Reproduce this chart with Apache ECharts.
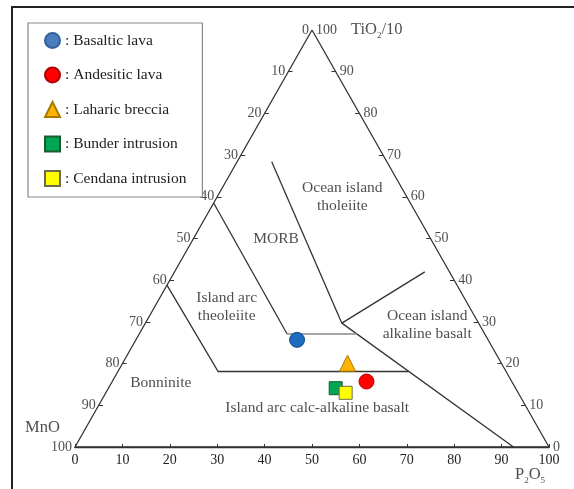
<!DOCTYPE html>
<html>
<head>
<meta charset="utf-8">
<script src="https://cdn.jsdelivr.net/npm/echarts@6/dist/echarts.min.js"></script>
<style>html,body{margin:0;padding:0;background:#fff;}#c{width:574px;height:489px;}</style>
</head>
<body>
<div id="c"></div>
<script>
// Ternary compositions: [TiO2/10, MnO, P2O5]
const basalticLava = [[25.7, 40.3, 34.0]];
const andesiticLava = [[15.7, 30.65, 53.65]];
const lahariBreccia = [[20.1, 32.45, 47.45]];
const bunderIntrusion = [[14.1, 37.95, 47.95]];
const cendanaIntrusion = [[13.0, 36.4, 50.6]];

// Field boundaries (ternary polylines)
const lineA = [[58.5, 41.5, 0], [27.1, 41.7, 31.2]];
const lineAH = [[27.1, 41.7, 31.2], [27.1, 26.95, 45.95]];
const lineB = [[68.4, 24.3, 7.3], [29.7, 28.85, 41.45]];
const lineC = [[29.7, 28.85, 41.45], [42.0, 5.2, 52.8]];
const lineD = [[29.7, 28.85, 41.45], [0, 7.5, 92.5]];
const lineE = [[38.8, 61.2, 0], [18.1, 60.75, 21.15], [18.1, 20.55, 61.35]];
const frame = [[100, 0, 0], [0, 100, 0], [0, 0, 100], [100, 0, 0]];

const sideTicks = [10, 20, 30, 40, 50, 60, 70, 80, 90];
const sideLabels = [0, 10, 20, 30, 40, 50, 60, 70, 80, 90, 100];

// Field labels: [text, TiO2/10, MnO, P2O5]
const fieldNames = ['Ocean island\ntholeiite', 'MORB', 'Island arc\ntheoleiite', 'Ocean island\nalkaline basalt', 'Bonninite', 'Island arc calc-alkaline basalt'];
const fieldPos = [[59.9, 13.65, 26.45], [49.9, 32.65, 17.45], [33.6, 51.2, 15.2], [29.3, 11.05, 59.65], [15.3, 74.25, 10.45], [9.4, 44.2, 46.4]];

const FONT = 'Liberation Serif';
function tern(p) { return [p[2] + p[0] / 2, p[0]]; }

const chart = echarts.init(document.getElementById('c'));

function scatterSeries(name, data, symbol, size, color, border) {
  return {
    name: name, type: 'scatter', symbol: symbol, symbolSize: size,
    data: data.map(tern),
    itemStyle: { color: color, borderColor: border, borderWidth: 1, opacity: 1 },
    z: 10
  };
}

const leftTickSegs = sideTicks.map(m => { const a = tern([100 - m, m, 0]); return { coords: [a, [a[0] + 0.9, a[1]]] }; });
const rightTickSegs = sideTicks.map(t => { const a = tern([t, 0, 100 - t]); return { coords: [a, [a[0] - 0.9, a[1]]] }; });

const option = {
  animation: false,
  backgroundColor: '#fff',
  grid: { left: 75, right: 25, top: 30, bottom: 42, outerBoundsMode: 'none', containLabel: false },
  xAxis: {
    type: 'value', min: 0, max: 100, interval: 10,
    axisLine: { lineStyle: { color: '#333', width: 1.3 } },
    axisTick: { inside: true, length: 3, lineStyle: { color: '#333' } },
    axisLabel: { fontSize: 14, color: '#222', fontFamily: FONT, margin: 6 },
    splitLine: { show: false }
  },
  yAxis: { type: 'value', min: 0, max: 100, show: false },
  legend: {
    orient: 'vertical', left: 28, top: 23,
    padding: [9, 16, 10, 16],
    itemWidth: 15, itemHeight: 15, itemGap: 17.5,
    borderColor: '#888', borderWidth: 1.2, backgroundColor: '#fff',
    formatter: n => ': ' + n,
    textStyle: { fontSize: 15.5, color: '#222', fontFamily: FONT, lineHeight: 15 },
    data: [
      { name: 'Basaltic lava', itemStyle: { color: '#4a7ebb', borderColor: '#35609a' } },
      { name: 'Andesitic lava' },
      { name: 'Laharic breccia' },
      { name: 'Bunder intrusion' },
      { name: 'Cendana intrusion' }
    ]
  },
  graphic: [
    { type: 'rect', shape: { x: 12, y: 7, width: 620, height: 540 }, style: { fill: 'none', stroke: '#222', lineWidth: 2 }, silent: true }
  ],
  series: [
    {
      type: 'lines', coordinateSystem: 'cartesian2d', polyline: true, silent: true,
      lineStyle: { color: '#333', width: 1.3, opacity: 1 },
      data: [frame, lineA, lineB, lineC, lineD, lineE].map(l => ({ coords: l.map(tern) }))
    },
    {
      type: 'lines', coordinateSystem: 'cartesian2d', polyline: true, silent: true,
      lineStyle: { color: '#888', width: 1.3, opacity: 1 },
      data: [lineAH].map(l => ({ coords: l.map(tern) }))
    },
    {
      type: 'lines', coordinateSystem: 'cartesian2d', silent: true,
      lineStyle: { color: '#333', width: 1, opacity: 1 },
      data: leftTickSegs.concat(rightTickSegs)
    },
    {
      type: 'scatter', silent: true, symbolSize: 0,
      data: sideLabels.map(m => ({ value: tern([100 - m, m, 0]), name: String(m) })),
      label: { show: true, position: 'left', distance: 3, formatter: p => p.name, fontSize: 14, color: '#222', fontFamily: FONT }
    },
    {
      type: 'scatter', silent: true, symbolSize: 0,
      data: sideLabels.map(t => ({ value: tern([t, 0, 100 - t]), name: String(t) })),
      label: { show: true, position: 'right', distance: 4, formatter: p => p.name, fontSize: 14, color: '#222', fontFamily: FONT }
    },
    {
      type: 'scatter', silent: true, symbolSize: 0,
      data: fieldNames.map((n, i) => ({ value: tern(fieldPos[i]), name: n })),
      label: { show: true, position: 'inside', formatter: p => p.name, fontSize: 15.5, lineHeight: 18, color: '#222', fontFamily: FONT, align: 'center' }
    },
    {
      type: 'scatter', silent: true, symbolSize: 0,
      data: [
        { value: tern([100, 0, 0]), name: 'TiO', label: { position: 'right', distance: 39, formatter: '{a|TiO}{s|2}{a|/10}' } },
        { value: tern([0, 100, 0]), name: 'MnO', label: { position: [-50, -29], formatter: '{a|MnO}' } },
        { value: tern([0, 0, 100]), name: 'P2O5', label: { position: [-34, 18], formatter: '{a|P}{s|2}{a|O}{s|5}' } }
      ],
      label: {
        show: true, color: '#222', fontFamily: FONT,
        rich: {
          a: { fontSize: 16.5, fontFamily: FONT, color: '#222', lineHeight: 20 },
          s: { fontSize: 9, fontFamily: FONT, color: '#222', lineHeight: 9, verticalAlign: 'bottom' }
        }
      }
    },
    scatterSeries('Basaltic lava', basalticLava, 'circle', 15, '#1c6cc0', '#15508f'),
    scatterSeries('Andesitic lava', andesiticLava, 'circle', 15, '#ff0000', '#b00000'),
    scatterSeries('Laharic breccia', lahariBreccia, 'triangle', 16, '#ffb400', '#a87800'),
    scatterSeries('Bunder intrusion', bunderIntrusion, 'rect', 13, '#00a651', '#185c2c'),
    scatterSeries('Cendana intrusion', cendanaIntrusion, 'rect', 13, '#ffff00', '#6b6b50')
  ]
};
chart.setOption(option);
</script>
</body>
</html>
